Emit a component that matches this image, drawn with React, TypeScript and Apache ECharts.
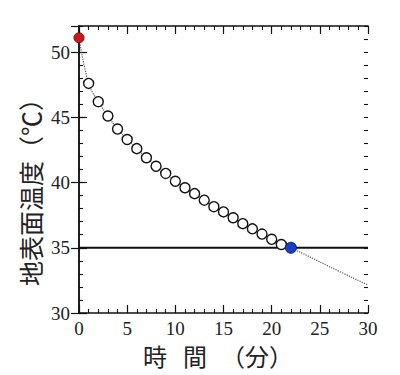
import React, { useEffect, useRef } from "react";
import * as echarts from "echarts";

// Time (minutes) and surface temperature (°C) of the open-circle measurements
const minutes = [1, 2, 3, 4, 5, 6, 7, 8, 9, 10, 11, 12, 13, 14, 15, 16, 17, 18, 19, 20, 21];
const temps = [47.6, 46.2, 45.1, 44.1, 43.3, 42.6, 41.9, 41.25, 40.7, 40.1, 39.6, 39.15, 38.65, 38.15, 37.75, 37.3, 36.85, 36.45, 36.05, 35.65, 35.25];

// Highlighted start (red) and crossing (blue) points
const startPoint = [0, 51.1];
const crossPoint = [22, 35.0];

// Extension of the dotted trend beyond the crossing point
const trendTailMinutes = [26, 30];
const trendTailTemps = [33.55, 32.15];

// Horizontal reference level
const thresholdTemp = 35;
const xRange = [0, 30];
const yRange = [30, 52];

const xTitleParts = ["時", "間", "（分）"];
const yTitle = "地表面温度（℃）";

const serif = "serif";
const cjk = "'Noto Sans CJK JP', 'Noto Sans CJK SC', sans-serif";

export default function App() {
  const ref = useRef<HTMLDivElement>(null);

  useEffect(() => {
    if (!ref.current) return;
    const chart = echarts.init(ref.current, undefined, { renderer: "svg" });

    const circles = minutes.map((m, i) => [m, temps[i]]);
    const trend = [
      startPoint,
      ...circles,
      crossPoint,
      ...trendTailMinutes.map((m, i) => [m, trendTailTemps[i]]),
    ];

    const lineCol = "#111";
    const baseAxis = {
      type: "value" as const,
      axisLine: { show: true, lineStyle: { color: lineCol, width: 1.5 } },
      splitLine: { show: false },
      minorSplitLine: { show: false },
    };
    const labelStyle = { fontFamily: serif, fontSize: 19, color: "#222" };

    chart.setOption({
      animation: false,
      backgroundColor: "#fff",
      grid: { left: 79, right: 32, top: 26, bottom: 62, containLabel: false },
      xAxis: [
        {
          ...baseAxis,
          position: "bottom",
          min: xRange[0],
          max: xRange[1],
          interval: 5,
          axisTick: { show: true, inside: true, length: 8, lineStyle: { color: lineCol, width: 1.2 } },
          minorTick: { show: true, splitNumber: 5, length: 4, lineStyle: { color: lineCol, width: 1.1 } },
          axisLabel: { show: true, ...labelStyle, margin: 6 },
        },
        {
          ...baseAxis,
          position: "top",
          min: xRange[0],
          max: xRange[1],
          interval: 5,
          axisTick: { show: true, inside: true, length: 8, lineStyle: { color: lineCol, width: 1.2 } },
          minorTick: { show: true, splitNumber: 5, length: 4, lineStyle: { color: lineCol, width: 1.1 } },
          axisLabel: { show: false },
        },
      ],
      yAxis: [
        {
          ...baseAxis,
          position: "left",
          min: yRange[0],
          max: yRange[1],
          interval: 5,
          axisTick: { show: true, inside: true, length: 8, lineStyle: { color: lineCol, width: 1.2 } },
          axisLabel: { show: true, ...labelStyle, margin: 9, showMaxLabel: false },
        },
        {
          ...baseAxis,
          position: "right",
          min: yRange[0],
          max: yRange[1],
          interval: 5,
          axisTick: { show: true, inside: true, length: 8, lineStyle: { color: lineCol, width: 1.2 } },
          axisLabel: { show: false },
        },
        {
          ...baseAxis,
          position: "left",
          min: yRange[0],
          max: yRange[1],
          interval: 1,
          axisLine: { show: false },
          axisTick: { show: true, inside: true, length: 4, lineStyle: { color: lineCol, width: 1.1 } },
          axisLabel: { show: false },
        },
        {
          ...baseAxis,
          position: "right",
          min: yRange[0],
          max: yRange[1],
          interval: 1,
          axisLine: { show: false },
          axisTick: { show: true, inside: true, length: 4, lineStyle: { color: lineCol, width: 1.1 } },
          axisLabel: { show: false },
        },
      ],
      series: [
        {
          type: "line",
          data: trend,
          smooth: 0.4,
          showSymbol: false,
          symbol: "none",
          lineStyle: { color: "#555", width: 1.2, type: "dotted" },
          z: 1,
          silent: true,
        },
        {
          type: "line",
          data: [
            [xRange[0], thresholdTemp],
            [xRange[1], thresholdTemp],
          ],
          symbol: "none",
          lineStyle: { color: "#111", width: 2 },
          z: 2,
          silent: true,
        },
        {
          type: "scatter",
          data: circles,
          symbol: "circle",
          symbolSize: 10,
          itemStyle: { color: "#fff", borderColor: "#111", borderWidth: 1.4, opacity: 1 },
          z: 3,
          clip: false,
        },
        {
          type: "scatter",
          data: [startPoint],
          symbol: "circle",
          symbolSize: 10,
          itemStyle: { color: "#c81818", borderColor: "#7a0a0a", borderWidth: 1, opacity: 1 },
          z: 4,
          clip: false,
        },
        {
          type: "scatter",
          data: [crossPoint],
          symbol: "circle",
          symbolSize: 11,
          itemStyle: { color: "#1d3fc4", borderColor: "#0a1f7a", borderWidth: 1, opacity: 1 },
          z: 4,
          clip: false,
        },
      ],
      graphic: [
        {
          type: "text",
          x: 155,
          y: 355,
          style: { text: xTitleParts[0], font: `24px ${cjk}`, fill: "#222", align: "center", verticalAlign: "middle" },
        },
        {
          type: "text",
          x: 195,
          y: 355,
          style: { text: xTitleParts[1], font: `24px ${cjk}`, fill: "#222", align: "center", verticalAlign: "middle" },
        },
        {
          type: "text",
          x: 257,
          y: 355,
          style: { text: xTitleParts[2], font: `24px ${cjk}`, fill: "#222", align: "center", verticalAlign: "middle" },
        },
        {
          type: "text",
          x: 30,
          y: 186,
          rotation: Math.PI / 2,
          style: { text: yTitle, font: `25px ${cjk}`, fill: "#222", align: "center", verticalAlign: "middle" },
        },
      ],
    });

    return () => chart.dispose();
  }, []);

  return (
    <div
      ref={ref}
      style={{ position: "fixed", left: 0, top: 0, width: 400, height: 375 }}
    />
  );
}
